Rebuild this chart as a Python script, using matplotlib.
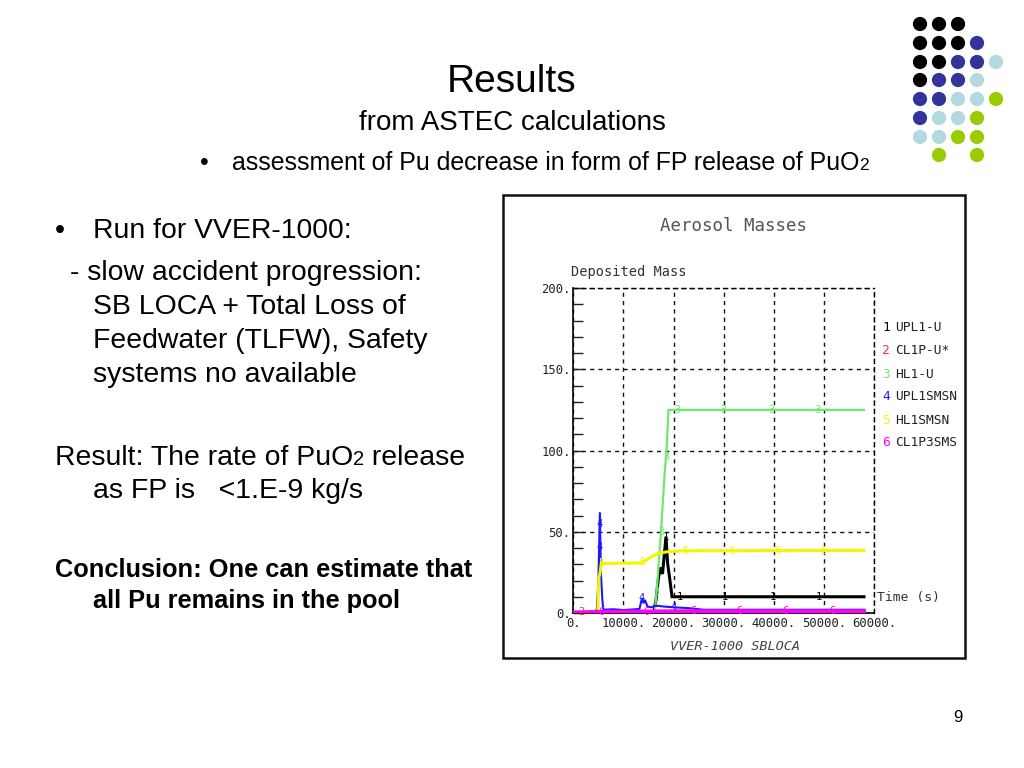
import numpy as np
import matplotlib
matplotlib.use("Agg")
import matplotlib.pyplot as plt
from matplotlib.patches import Rectangle

# ---------------- data ----------------
series_names = ["UPL1-U", "CL1P-U*", "HL1-U", "UPL1SMSN", "HL1SMSN", "CL1P3SMS"]
series_colors = ["#000000", "#ff3030", "#70e870", "#1a1aff", "#f5f500", "#ff00ff"]

t_upl1u = [0, 16000, 16500, 17000, 17400, 17800, 18100, 18500, 18800, 19200, 19700, 58000]
m_upl1u = [0, 0, 8, 22, 28, 24, 34, 47, 31, 22, 10, 10]

t_cl1pu = [0, 1500, 3000, 58000]
m_cl1pu = [0.2, 0.6, 0.3, 0.3]

t_hl1u = [0, 16000, 16300, 16800, 17500, 18200, 18600, 19000, 58000]
m_hl1u = [0, 0, 2, 20, 50, 85, 100, 125, 125]

t_upl1smsn = [0, 4000, 4700, 5000, 5300, 5500, 5800, 6000, 8000, 10000, 12000, 13200,
              13700, 14000, 14300, 14800, 15500, 16500, 18000, 20000, 23000, 26000, 58000]
m_upl1smsn = [0.3, 0.5, 2, 19, 62, 25, 8, 2, 2.3, 1.8, 2.2, 2.5,
              9, 6, 8, 4, 3.5, 4.5, 4, 3.5, 3, 2, 2]

t_hl1smsn = [0, 4900, 5100, 5300, 5600, 13500, 14500, 15500, 16500, 17500, 19000, 22000, 58000]
m_hl1smsn = [0, 1, 22, 24, 30.5, 30.8, 32.5, 34.5, 36, 37, 37.8, 38.3, 38.5]

t_cl1p3sms = [0, 5000, 20000, 58000]
m_cl1p3sms = [0.3, 0.6, 1.0, 1.0]

series_t = [t_upl1u, t_cl1pu, t_hl1u, t_upl1smsn, t_hl1smsn, t_cl1p3sms]
series_m = [m_upl1u, m_cl1pu, m_hl1u, m_upl1smsn, m_hl1smsn, m_cl1p3sms]
series_lw = [2.2, 1.2, 1.6, 1.5, 2.2, 3.0]

# times at which the curve numbers are written along each curve
label_times = [
    [18500, 21300, 30300, 39800, 49000],
    [1700],
    [16600, 17500, 18500, 20700, 30000, 39500, 48700],
    [5150, 5250, 13700, 20000],
    [5670, 13700, 22300, 31700, 40900, 50000],
    [5670, 14700, 24000, 33100, 42300, 51700],
]

x_ticks = [0, 10000, 20000, 30000, 40000, 50000, 60000]
x_ticklabels = ["0.", "10000.", "20000.", "30000.", "40000.", "50000.", "60000."]
y_ticks = [0, 50, 100, 150, 200]
y_ticklabels = ["0.", "50.", "100.", "150.", "200."]

# decorative dot grid (row, col, colour index)
dot_rows = [0, 0, 0, 1, 1, 1, 1, 2, 2, 2, 2, 2, 3, 3, 3, 3, 4, 4, 4, 4, 4, 5, 5, 5, 5, 6, 6, 6, 6, 7, 7]
dot_cols = [0, 1, 2, 0, 1, 2, 3, 0, 1, 2, 3, 4, 0, 1, 2, 3, 0, 1, 2, 3, 4, 0, 1, 2, 3, 0, 1, 2, 3, 1, 3]
dot_kind = [0, 0, 0, 0, 0, 0, 1, 0, 0, 1, 1, 2, 0, 1, 1, 2, 1, 1, 2, 2, 3, 1, 2, 2, 3, 2, 2, 3, 3, 3, 3]
dot_palette = ["#000000", "#333399", "#b3d9e0", "#99cc00"]

# ---------------- figure ----------------
W, H = 1024, 768
fig = plt.figure(figsize=(W / 100, H / 100), dpi=100)
fig.patch.set_facecolor("white")

def fx(px):
    return px / W

def fy(py):
    return 1 - py / H

# overlay for decorations in pixel coordinates
deco = fig.add_axes([0, 0, 1, 1])
deco.set_xlim(0, W)
deco.set_ylim(H, 0)
deco.axis("off")
col_x = [920, 939, 958, 977, 996]
row_y = [24, 43, 62, 80, 99, 118, 137, 155]
deco.scatter([col_x[c] for c in dot_cols], [row_y[r] for r in dot_rows], s=105,
             c=[dot_palette[k] for k in dot_kind], linewidths=0, zorder=2)
deco.add_patch(Rectangle((503, 195), 462, 463, fill=False, edgecolor="#111111", lw=1.8, zorder=1))

# ---------------- slide texts ----------------
SANS = "Liberation Sans"
fig.text(fx(512), fy(92), "Results", fontsize=28, family=SANS, ha="center", va="baseline")
fig.text(fx(512), fy(130), "from ASTEC calculations", fontsize=20, family=SANS, ha="center", va="baseline")

renderer = fig.canvas.get_renderer()

def runs(x, y, parts, weight="normal"):
    for txt, size in parts:
        t = fig.text(fx(x), fy(y), txt, fontsize=size, family=SANS, weight=weight, va="baseline", ha="left")
        bb = t.get_window_extent(renderer)
        x += bb.width

fig.text(fx(200), fy(170), "•", fontsize=17.9, family=SANS, va="baseline")
runs(232, 170, [("assessment of Pu decrease in form of FP release of PuO", 17.9), ("2", 12.5)])

body = 20.4
fig.text(fx(55), fy(238), "•", fontsize=body, family=SANS, va="baseline")
fig.text(fx(93), fy(238), "Run for VVER-1000:", fontsize=body, family=SANS, va="baseline")
fig.text(fx(70), fy(280), "- slow accident progression:", fontsize=body, family=SANS, va="baseline")
fig.text(fx(93), fy(314), "SB LOCA + Total Loss of", fontsize=body, family=SANS, va="baseline")
fig.text(fx(93), fy(348), "Feedwater (TLFW), Safety", fontsize=body, family=SANS, va="baseline")
fig.text(fx(93), fy(382), "systems no available", fontsize=body, family=SANS, va="baseline")
runs(55, 465, [("Result: The rate of PuO", body), ("2", 14.5), (" release", body)])
fig.text(fx(93), fy(498), "as FP is   <1.E-9 kg/s", fontsize=body, family=SANS, va="baseline")
fig.text(fx(55), fy(577), "Conclusion: One can estimate that", fontsize=18.3, family=SANS,
         weight="bold", va="baseline")
fig.text(fx(93), fy(608), "all Pu remains in the pool", fontsize=18.3, family=SANS,
         weight="bold", va="baseline")
fig.text(fx(958), fy(718), "9", fontsize=12, family=SANS, ha="center", va="center")

# ---------------- chart ----------------
MONO = "DejaVu Sans Mono"
x0, x1, ytop, ybot = 573.3, 874, 288, 613
ax = fig.add_axes([fx(x0), fy(ybot), fx(x1 - x0), (ybot - ytop) / H])
ax.set_xlim(0, 60000)
ax.set_ylim(0, 200)
ax.set_facecolor("none")

for t, m, c, lw in zip(series_t, series_m, series_colors, series_lw):
    ax.plot(t, m, color=c, lw=lw, solid_joinstyle="miter", zorder=3)

for t, m, c, times, k in zip(series_t, series_m, series_colors, label_times, range(6)):
    for tt in times:
        yy = float(np.interp(tt, t, m))
        ax.text(tt, yy, str(k + 1), color=c, fontsize=7.5, family=MONO, ha="center", va="center",
                zorder=4)

ax.set_xticks(x_ticks)
ax.set_xticklabels(x_ticklabels)
ax.set_yticks(y_ticks)
ax.set_yticklabels(y_ticklabels)
ax.set_yticks(np.arange(0, 201, 10), minor=True)
ax.tick_params(axis="y", which="both", direction="in", length=7, width=1, color="#222222",
               labelsize=8.8, pad=2, labelcolor="#222222")
ax.tick_params(axis="x", which="both", length=0, labelsize=8.8, pad=3, labelcolor="#222222")
for lab in ax.get_xticklabels() + ax.get_yticklabels():
    lab.set_family(MONO)

ax.grid(True, which="major", color="#111111", lw=1, ls=(0, (3, 3)))
ax.spines["left"].set_linewidth(1.2)
ax.spines["bottom"].set_linewidth(1.2)
for s in ("top", "right"):
    ax.spines[s].set_linestyle((0, (3, 3)))
    ax.spines[s].set_linewidth(1)

fig.text(fx(733), fy(226), "Aerosol Masses", fontsize=12.5, family=MONO, color="#555555",
         ha="center", va="center")
fig.text(fx(571), fy(272), "Deposited Mass", fontsize=9.8, family=MONO, color="#333333",
         ha="left", va="center")
fig.text(fx(877), fy(597), "Time (s)", fontsize=9.4, family=MONO, color="#333333",
         ha="left", va="center")
fig.text(fx(735), fy(647), "VVER-1000 SBLOCA", fontsize=9.7, family=MONO, style="italic",
         color="#444444", ha="center", va="center")

leg_y = [328, 351, 374, 397, 421, 443]
for k, (name, c, yy) in enumerate(zip(series_names, series_colors, leg_y)):
    fig.text(fx(882), fy(yy), str(k + 1), fontsize=9.3, family=MONO, color=c, ha="left", va="center")
    fig.text(fx(895), fy(yy), name, fontsize=9.3, family=MONO, color="#222222", ha="left", va="center")

fig.savefig("out.png", dpi=100)
